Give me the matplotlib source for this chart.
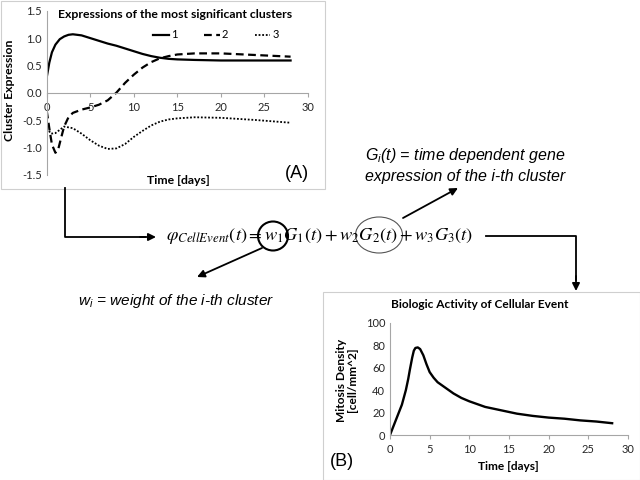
import matplotlib
matplotlib.use("Agg")
import matplotlib.pyplot as plt
from matplotlib.patches import Rectangle, Ellipse

#DATA - panel A (cluster expression vs time)
t1 = [0, 0.3, 0.6, 1, 1.5, 2, 2.5, 3, 4, 5, 6, 7, 8, 9, 10, 11, 12, 13, 14, 15, 17, 20, 24, 28]
c1 = [0.28, 0.55, 0.74, 0.88, 0.98, 1.03, 1.06, 1.07, 1.05, 1.0, 0.95, 0.9, 0.86, 0.81, 0.76, 0.71,
      0.67, 0.64, 0.62, 0.61, 0.60, 0.59, 0.59, 0.59]
t2 = [0, 0.3, 0.6, 1, 1.3, 1.7, 2, 2.5, 3, 4, 5, 6, 7, 8, 9, 10, 11, 12, 13, 14, 15, 17, 20, 24, 28]
c2 = [-0.33, -0.65, -0.95, -1.10, -1.05, -0.80, -0.62, -0.45, -0.37, -0.31, -0.27, -0.22, -0.14, 0.0,
      0.18, 0.33, 0.46, 0.56, 0.63, 0.67, 0.70, 0.72, 0.72, 0.69, 0.66]
t3 = [0, 0.5, 1, 1.5, 2, 3, 4, 5, 6, 7, 8, 9, 10, 11, 12, 13, 14, 15, 17, 20, 24, 28]
c3 = [-0.65, -0.75, -0.74, -0.68, -0.62, -0.65, -0.75, -0.87, -0.97, -1.03, -1.02, -0.94, -0.81, -0.70,
      -0.60, -0.53, -0.49, -0.47, -0.45, -0.46, -0.50, -0.55]
cluster_names = ["1", "2", "3"]

#DATA - panel B (mitosis density)
tb = [0, 0.5, 1, 1.5, 2, 2.3, 2.5, 2.8, 3.0, 3.2, 3.5, 3.8, 4.2, 4.6, 5, 5.5, 6, 7, 8, 9, 10, 12, 14,
      16, 18, 20, 22, 24, 26, 28]
mitosis = [0, 9, 18, 27, 40, 50, 58, 69, 75, 77.5, 78, 76.5, 71, 63, 56, 51, 47, 42, 37, 33, 30, 25,
           22, 19, 17, 15.5, 14.5, 13, 12, 10.5]

W, H = 640, 480
GRAY = "#a6a6a6"
chart_font = "Lato"
arial = "Liberation Sans"

#mathtext for the italic annotation labels (Arial-like)
plt.rcParams["mathtext.it"] = "Liberation Sans:italic"
plt.rcParams["mathtext.rm"] = "Liberation Sans"

fig = plt.figure(figsize=(6.4, 4.8), dpi=100)

def rect(x0, y0, x1, y1):
    #pixel box (top-left origin) -> figure fraction
    return [x0 / W, 1 - y1 / H, (x1 - x0) / W, (y1 - y0) / H]

def style_axes(ax):
    for s in ["top", "right"]:
        ax.spines[s].set_visible(False)
    for s in ["left", "bottom"]:
        ax.spines[s].set_color(GRAY)
        ax.spines[s].set_linewidth(0.8)
    ax.tick_params(colors=GRAY, labelcolor="#262626", labelsize=8, length=3, width=0.8)
    for lab in ax.get_xticklabels() + ax.get_yticklabels():
        lab.set_family(chart_font)

#PANEL A
axA = fig.add_axes(rect(46.7, 10.8, 308, 174.6))
axA.plot(t1, c1, color="k", lw=1.6, label=cluster_names[0])
axA.plot(t2, c2, color="k", lw=1.6, ls=(0, (3.5, 2)), label=cluster_names[1])
axA.plot(t3, c3, color="k", lw=1.3, ls=(0, (1, 1)), label=cluster_names[2])
axA.set_xlim(0, 30)
axA.set_ylim(-1.5, 1.5)
axA.set_xticks(range(0, 31, 5))
axA.set_yticks([-1.5, -1.0, -0.5, 0.0, 0.5, 1.0, 1.5])
axA.set_yticklabels(["%.1f" % v for v in [-1.5, -1.0, -0.5, 0.0, 0.5, 1.0, 1.5]])
axA.spines["bottom"].set_position(("data", 0))
style_axes(axA)
axA.tick_params(axis="y", length=0)
axA.set_facecolor("none")
axA.legend(loc="center", bbox_to_anchor=(216 / W, 1 - 35 / H), bbox_transform=fig.transFigure,
           ncol=3, frameon=False, handlelength=1.4, columnspacing=2.4, handletextpad=0.2,
           prop={"family": chart_font, "size": 8})

#PANEL B
axB = fig.add_axes(rect(390, 322.7, 628, 435))
axB.plot(tb, mitosis, color="k", lw=1.7)
axB.set_xlim(0, 30)
axB.set_ylim(0, 100)
axB.set_xticks(range(0, 31, 5))
axB.set_yticks(range(0, 101, 20))
style_axes(axB)
axB.tick_params(axis="y", length=0)
axB.set_facecolor("none")

#OVERLAY (pixel coordinates) for boxes, text, arrows
ov = fig.add_axes([0, 0, 1, 1], zorder=10)
ov.set_xlim(0, W)
ov.set_ylim(H, 0)
ov.axis("off")
ov.patch.set_alpha(0)

ov.add_patch(Rectangle((0.5, 0.5), 324, 188, fill=False, ec="#cfcfcf", lw=0.8))
ov.add_patch(Rectangle((323, 292), 316.5, 187.5, fill=False, ec="#cfcfcf", lw=0.8))

#chart titles / labels
ov.text(175, 14, "Expressions of the most significant clusters", ha="center", va="center",
        family=chart_font, fontweight="bold", fontsize=8.8)
ov.text(10, 90, "Cluster Expression", ha="center", va="center", rotation=90,
        family=chart_font, fontweight="bold", fontsize=8.8)
ov.text(178, 180, "Time [days]", ha="center", va="center", family=chart_font, fontweight="bold", fontsize=8.8)
ov.text(297, 173, "(A)", ha="center", va="center", family=arial, fontsize=13)

ov.text(480, 305, "Biologic Activity of Cellular Event", ha="center", va="center",
        family=chart_font, fontweight="bold", fontsize=8.6)
ov.text(347, 380, "Mitosis Density\n[cell/mm^2]", ha="center", va="center", rotation=90,
        family=chart_font, fontweight="bold", fontsize=8.6, linespacing=1.1)
ov.text(508, 467, "Time [days]", ha="center", va="center", family=chart_font, fontweight="bold", fontsize=8.6)
ov.text(342, 462, "(B)", ha="center", va="center", family=arial, fontsize=13)

#equation
ov.text(166, 236, r"$\varphi_{CellEvent}(t)=w_1G_1(t)+w_2G_2(t)+w_3G_3(t)$", ha="left", va="center",
        fontsize=13.2, math_fontfamily="stix")
ov.add_patch(Ellipse((273, 236), 30, 29, fill=False, ec="k", lw=1.5))
ov.add_patch(Ellipse((379, 235), 47, 36, fill=False, ec="#555555", lw=0.8))

#annotation texts
ov.text(465, 165, "$G_i$(t) = time dependent gene\nexpression of the i-th cluster", ha="center",
        va="center", family=arial, style="italic", fontsize=11.5, math_fontfamily="custom", linespacing=1.3)
ov.text(78, 301, "$w_i$ = weight of the i-th cluster", ha="left", va="center",
        family=arial, style="italic", fontsize=11.1, math_fontfamily="custom")

#connectors
arr = dict(arrowstyle="-|>", color="k", lw=1.3, mutation_scale=11, shrinkA=0, shrinkB=0)
ov.plot([65, 65, 145], [188, 237, 237], color="k", lw=1.3)
ov.annotate("", xy=(156, 237), xytext=(140, 237), arrowprops=arr)
ov.plot([486, 576, 576], [236, 236, 280], color="k", lw=1.3)
ov.annotate("", xy=(576, 291), xytext=(576, 276), arrowprops=arr)
ov.annotate("", xy=(197, 277), xytext=(262, 248), arrowprops=arr)
ov.annotate("", xy=(458, 188), xytext=(403, 218), arrowprops=arr)

fig.savefig("out.png", dpi=100)
